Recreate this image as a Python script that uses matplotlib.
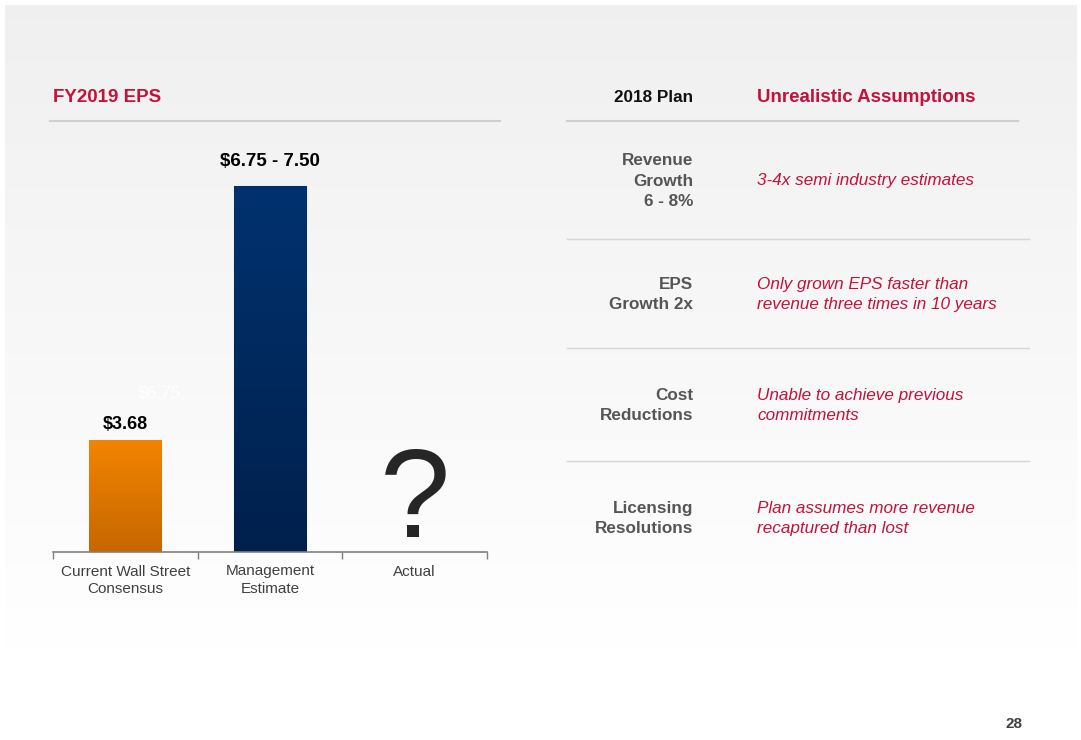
import numpy as np
import matplotlib
matplotlib.use("Agg")
import matplotlib.pyplot as plt
from matplotlib.colors import LinearSegmentedColormap

plt.rcParams['font.family'] = ['Liberation Sans', 'DejaVu Sans']

# data
categories = ["Current Wall Street\nConsensus", "Management\nEstimate", "Actual"]
eps_values = [3.68, 7.50]
eps_labels = ["$3.68", "$6.75 - 7.50"]
hidden_label = "$6.75"
axis_floor = 2.0

plan_items = ["Revenue\nGrowth\n6 - 8%", "EPS\nGrowth 2x", "Cost\nReductions", "Licensing\nResolutions"]
assumptions = ["3-4x semi industry estimates",
               "Only grown EPS faster than\nrevenue three times in 10 years",
               "Unable to achieve previous\ncommitments",
               "Plan assumes more revenue\nrecaptured than lost"]
row_y = [181, 294.5, 405.5, 518.5]
row_lines = [239, 348, 461]

RED = "#c4123a"
W, H = 1081, 740

fig = plt.figure(figsize=(10.81, 7.40), dpi=100)
fig.patch.set_facecolor("white")

# slide background gradient
bg = fig.add_axes([0, 0, 1, 1], zorder=0)
bg.axis("off")
grad = np.linspace(0.94, 1.0, 256).reshape(-1, 1)
bg.imshow(np.dstack([grad, grad, grad]), extent=(5, 1077, 650, 5), aspect="auto")
bg.set_xlim(0, W)
bg.set_ylim(H, 0)

# headers and lines
bg.text(53, 97, "FY2019 EPS", color=RED, fontsize=13.5, fontweight="bold", va="center", ha="left")
bg.text(693, 97, "2018 Plan", color="#111111", fontsize=12.3, fontweight="bold", va="center", ha="right")
bg.text(757, 97, "Unrealistic Assumptions", color=RED, fontsize=13.5, fontweight="bold", va="center", ha="left")
bg.plot([50, 500], [121, 121], color="#cfcfcf", lw=1.5)
bg.plot([567, 1018], [121, 121], color="#cfcfcf", lw=1.5)
for y in row_lines:
    bg.plot([567, 1029], [y, y], color="#d6d6d6", lw=1)

for y, item, note in zip(row_y, plan_items, assumptions):
    bg.text(693, y, item, color="#555555", fontsize=12.3, fontweight="bold",
            ha="right", va="center", multialignment="right", linespacing=1.45)
    bg.text(757, y, note, color=RED, fontsize=12.3, style="italic",
            ha="left", va="center", linespacing=1.45)

bg.text(1014, 724, "28", color="#404040", fontsize=11, fontweight="bold", ha="center", va="center")

# bar chart
ax = fig.add_axes([53 / W, 1 - 552 / H, (487 - 53) / W, (552 - 130) / H], zorder=2)
ax.patch.set_alpha(0)
ymax = axis_floor + (552 - 130) * (eps_values[1] - axis_floor) / (552 - 186)

x = np.arange(len(eps_values))
bars = ax.bar(x, eps_values, width=0.5, color="none", edgecolor="none")
grads = [("#f28400", "#c76700"), ("#00326f", "#00204c")]
for bar, (top, bot) in zip(bars, grads):
    cmap = LinearSegmentedColormap.from_list("g", [bot, top])
    x0, w, h = bar.get_x(), bar.get_width(), bar.get_height()
    img = ax.imshow(np.linspace(1, 0, 256).reshape(-1, 1), cmap=cmap, aspect="auto",
                    extent=(x0, x0 + w, axis_floor, h), origin="upper", zorder=1)
    img.set_clip_path(bar)
bars[1].set_edgecolor("#5a7aa8")
bars[1].set_linewidth(0.8)

ax.annotate(eps_labels[0], (x[0], eps_values[0]), xytext=(0, 16), textcoords="offset pixels",
            ha="center", va="center", fontsize=13, fontweight="bold", color="black")
ax.annotate(eps_labels[1], (x[1], eps_values[1]), xytext=(0, 25), textcoords="offset pixels",
            ha="center", va="center", fontsize=13.5, fontweight="bold", color="black")
ax.annotate(hidden_label, (x[0], eps_values[0]), xytext=(34, 47), textcoords="offset pixels",
            ha="center", va="center", fontsize=12.5, color="white")
ax.annotate("?", (2, axis_floor), xytext=(0, 15), textcoords="offset pixels",
            ha="center", va="baseline", fontsize=91, color="#262626")

ax.set_xlim(-0.5, 2.5)
ax.set_ylim(axis_floor, ymax)
for s in ["top", "right", "left"]:
    ax.spines[s].set_visible(False)
ax.spines["bottom"].set_color("#808080")
ax.spines["bottom"].set_linewidth(1.2)
ax.set_yticks([])
ax.set_xticks([-0.5, 0.5, 1.5, 2.5])
ax.set_xticklabels([])
ax.tick_params(axis="x", which="major", length=5, width=1, color="#808080", direction="out")
ax.set_xticks(range(len(categories)), minor=True)
ax.set_xticklabels(categories, minor=True, fontsize=11, color="#404040", linespacing=1.3)
ax.tick_params(axis="x", which="minor", length=0, pad=9)

fig.savefig("out.png", dpi=100)
